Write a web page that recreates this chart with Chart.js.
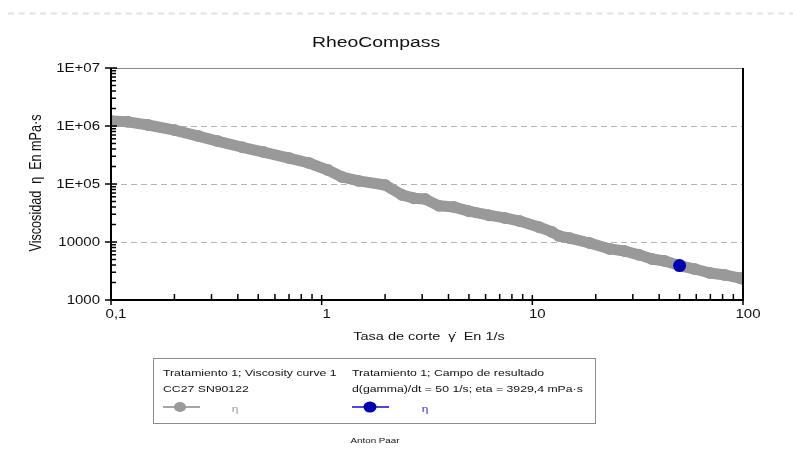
<!DOCTYPE html>
<html>
<head>
<meta charset="utf-8">
<script src="https://cdn.jsdelivr.net/npm/chart.js@4"></script>
<style>
  html, body { margin: 0; padding: 0; background: #fff; }
  canvas { display: block; }
</style>
</head>
<body>
<canvas id="c" width="793" height="467"></canvas>
<script>
// Viscosity curve: shear rate (1/s) and viscosity (mPa·s)
const shearRate = [0.1, 0.12, 0.15, 0.2, 0.26, 0.32, 0.42, 0.53, 0.7, 0.87, 1.07, 1.25, 1.5, 2.0, 2.4, 2.74, 3.1, 3.6, 4.25, 5.0, 6.2, 7.4, 8.7, 10.8, 12.4, 13.4, 15, 18.7, 23.3, 27.4, 32, 37, 42.5, 50, 59, 69.6, 82, 96.8, 100];
const viscosity = [1220000, 1180000, 1040000, 850000, 670000, 550000, 430000, 356000, 280000, 230000, 174000, 132000, 113000, 96000, 65000, 57000, 55000, 42000, 40000, 34000, 29000, 26000, 23000, 18000, 14900, 12700, 11700, 9600, 7600, 7000, 6000, 5100, 4700, 3930, 3420, 2920, 2700, 2390, 2300];

// Result field: single evaluated point
const resultShearRate = [50];
const resultViscosity = [3929.4];

// Axis ticks and labels
const xMajorTicks = [0.1, 1, 10, 100];
const xTickLabels = ['0,1', '1', '10', '100'];
const yMajorTicks = [1000, 10000, 100000, 1000000, 10000000];
const yTickLabels = ['1000', '10000', '1E+05', '1E+06', '1E+07'];

const FONT = '"Liberation Sans", Arial, Helvetica, sans-serif';
const STRETCH = 1.25;

function drawText(ctx, s, x, y, size, align, color, rotated) {
  ctx.save();
  ctx.translate(x, y);
  if (rotated) { ctx.rotate(-Math.PI / 2); ctx.scale(1, STRETCH); }
  else { ctx.scale(STRETCH, 1); }
  ctx.font = size + 'px ' + FONT;
  ctx.fillStyle = color || '#111';
  ctx.textAlign = align || 'left';
  ctx.textBaseline = 'middle';
  ctx.fillText(s, 0, 0);
  ctx.restore();
}

function minorValues(min, max) {
  const out = [];
  for (let d = min; d < max; d *= 10) {
    for (let k = 2; k <= 9; k++) out.push(d * k);
  }
  return out;
}

const decorations = {
  id: 'decorations',
  beforeDraw(chart) {
    const ctx = chart.ctx;
    ctx.save();
    ctx.fillStyle = '#fff';
    ctx.fillRect(0, 0, chart.width, chart.height);
    // light dashed rule at the top of the page
    ctx.strokeStyle = '#e2e2e2';
    ctx.lineWidth = 2;
    ctx.setLineDash([6, 4.7]);
    ctx.beginPath();
    ctx.moveTo(8, 13.5);
    ctx.lineTo(793, 13.5);
    ctx.stroke();
    ctx.restore();
  },
  beforeDatasetsDraw(chart) {
    const ctx = chart.ctx, a = chart.chartArea, ys = chart.scales.y;
    ctx.save();
    ctx.strokeStyle = '#b4b4b4';
    ctx.lineWidth = 1;
    ctx.setLineDash([6, 4]);
    yMajorTicks.slice(1, -1).forEach(v => {
      const py = Math.round(ys.getPixelForValue(v)) + 0.5;
      ctx.beginPath();
      ctx.moveTo(a.left, py);
      ctx.lineTo(a.right, py);
      ctx.stroke();
    });
    ctx.restore();
  },
  afterDatasetsDraw(chart) {
    const ctx = chart.ctx, a = chart.chartArea;
    const xs = chart.scales.x, ys = chart.scales.y;
    ctx.save();
    // top border
    ctx.strokeStyle = '#8a8a8a';
    ctx.lineWidth = 1;
    ctx.beginPath();
    ctx.moveTo(a.left, a.top + 0.5);
    ctx.lineTo(a.right, a.top + 0.5);
    ctx.stroke();
    // axes
    ctx.strokeStyle = '#000';
    ctx.lineWidth = 2;
    ctx.beginPath();
    ctx.moveTo(a.left, a.top);
    ctx.lineTo(a.left, a.bottom + 1);
    ctx.moveTo(a.left - 1, a.bottom);
    ctx.lineTo(a.right + 1, a.bottom);
    ctx.moveTo(a.right, a.top);
    ctx.lineTo(a.right, a.bottom);
    ctx.stroke();
    // y ticks
    ctx.lineWidth = 1.5;
    ctx.beginPath();
    yMajorTicks.forEach(v => {
      const py = ys.getPixelForValue(v);
      ctx.moveTo(a.left - 6, py);
      ctx.lineTo(a.left + 6, py);
    });
    minorValues(1000, 10000000).forEach(v => {
      const py = ys.getPixelForValue(v);
      ctx.moveTo(a.left, py);
      ctx.lineTo(a.left + 5, py);
    });
    // x ticks
    xMajorTicks.forEach(v => {
      const px = xs.getPixelForValue(v);
      ctx.moveTo(px, a.bottom - 5);
      ctx.lineTo(px, a.bottom + 5);
    });
    minorValues(0.1, 100).forEach(v => {
      const px = xs.getPixelForValue(v);
      ctx.moveTo(px, a.bottom - 6);
      ctx.lineTo(px, a.bottom);
    });
    ctx.stroke();
    ctx.restore();
  },
  afterDraw(chart) {
    const ctx = chart.ctx, a = chart.chartArea;
    const xs = chart.scales.x, ys = chart.scales.y;
    // title
    drawText(ctx, 'RheoCompass', 376, 43, 15.5, 'center', '#111');
    // tick labels
    yMajorTicks.forEach((v, i) => {
      drawText(ctx, yTickLabels[i], 100, ys.getPixelForValue(v) + 0.5, 12, 'right', '#111');
    });
    xMajorTicks.forEach((v, i) => {
      drawText(ctx, xTickLabels[i], xs.getPixelForValue(v) + 5, a.bottom + 15, 12, 'center', '#111');
    });
    // axis titles
    drawText(ctx, 'Tasa de corte  γ̇  En 1/s', 429, 337, 11.6, 'center', '#111');
    drawText(ctx, 'Viscosidad  η  En mPa·s', 37, 183, 12.6, 'center', '#111', true);

    // legend box
    ctx.save();
    ctx.strokeStyle = '#8c8c8c';
    ctx.lineWidth = 1;
    ctx.strokeRect(153.5, 358.5, 442, 65);
    ctx.restore();
    drawText(ctx, 'Tratamiento 1; Viscosity curve 1', 163, 373, 9.8, 'left', '#111');
    drawText(ctx, 'CC27 SN90122', 163, 389, 9.8, 'left', '#111');
    drawText(ctx, 'Tratamiento 1; Campo de resultado', 352, 373, 9.8, 'left', '#111');
    const rateTxt = String(resultShearRate[0]).replace('.', ',');
    const etaTxt = resultViscosity[0].toFixed(1).replace('.', ',');
    drawText(ctx, 'd(gamma)/dt = ' + rateTxt + ' 1/s; eta = ' + etaTxt + ' mPa·s', 352, 389, 9.8, 'left', '#111');
    // legend symbols
    ctx.save();
    ctx.lineWidth = 2;
    ctx.strokeStyle = '#a5a5a5';
    ctx.beginPath(); ctx.moveTo(163, 407); ctx.lineTo(200, 407); ctx.stroke();
    ctx.fillStyle = '#999999';
    ctx.beginPath(); ctx.ellipse(180, 407, 6, 5, 0, 0, Math.PI * 2); ctx.fill();
    ctx.strokeStyle = '#4a4ae0';
    ctx.beginPath(); ctx.moveTo(352, 407); ctx.lineTo(389, 407); ctx.stroke();
    ctx.fillStyle = '#0000b4';
    ctx.beginPath(); ctx.ellipse(370, 407, 6.5, 5.5, 0, 0, Math.PI * 2); ctx.fill();
    ctx.restore();
    drawText(ctx, 'η', 235, 409, 9.5, 'center', '#999');
    drawText(ctx, 'η', 425, 409, 9.5, 'center', '#3030d0');
    // footer
    drawText(ctx, 'Anton Paar', 375, 441, 7.8, 'center', '#111');
  }
};

new Chart(document.getElementById('c'), {
  type: 'scatter',
  data: {
    datasets: [
      {
        label: 'η (resultado)',
        data: resultShearRate.map((x, i) => ({ x: x, y: resultViscosity[i] })),
        pointRadius: 6.5,
        pointBackgroundColor: '#0000b4',
        pointBorderWidth: 0,
        showLine: false
      },
      {
        label: 'η',
        data: shearRate.map((x, i) => ({ x: x, y: viscosity[i] })),
        showLine: true,
        borderColor: '#999999',
        borderWidth: 11,
        borderJoinStyle: 'round',
        borderCapStyle: 'round',
        pointRadius: 6,
        pointBackgroundColor: '#999999',
        pointBorderWidth: 0,
        tension: 0,
        clip: 0
      }
    ]
  },
  options: {
    responsive: false,
    animation: false,
    devicePixelRatio: 1,
    layout: { padding: { left: 111, right: 50, top: 68, bottom: 167 } },
    scales: {
      x: { type: 'logarithmic', min: 0.1, max: 100, display: false },
      y: { type: 'logarithmic', min: 1000, max: 10000000, display: false }
    },
    plugins: { legend: { display: false }, tooltip: { enabled: false }, title: { display: false } },
    events: []
  },
  plugins: [decorations]
});
</script>
</body>
</html>
